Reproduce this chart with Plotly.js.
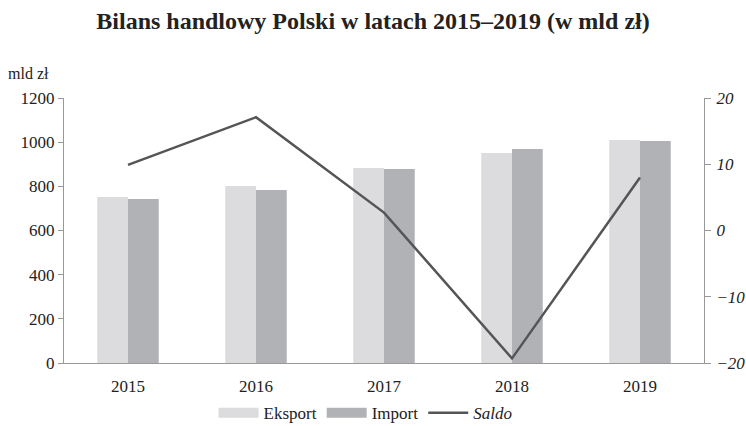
<!DOCTYPE html>
<html><head><meta charset="utf-8">
<script src="https://cdn.plot.ly/plotly-3.0.1.min.js"></script>
<style>body{margin:0;background:#fff}#c{width:746px;height:426px}</style>
</head><body><div id="c"></div>
<script>
const years = ['2015','2016','2017','2018','2019'];
const eksport = [752, 801, 883, 951, 1010];
const importV = [743, 783, 879, 969, 1005];
const saldo = [9.9, 17.1, 2.7, -19.3, 8.0];
const leftTicks = [0, 200, 400, 600, 800, 1000, 1200];
const rightTicks = [-20, -10, 0, 10, 20];
const cExp = '#dcdcde', cImp = '#b1b2b5', cLine = '#555558';

const F = 'Liberation Serif';
const data = [
  {type:'bar', name:'Eksport', x:years, y:eksport, marker:{color:cExp}, showlegend:false},
  {type:'bar', name:'Import', x:years, y:importV, marker:{color:cImp}, showlegend:false},
  {type:'scatter', mode:'lines', name:'<i>Saldo</i>', x:years, y:saldo, yaxis:'y2', line:{color:cLine, width:2.5}, showlegend:false},
  {type:'scatter', mode:'lines', name:'Eksport', x:[null], y:[null], line:{color:cExp, width:12}},
  {type:'scatter', mode:'lines', name:'Import', x:[null], y:[null], line:{color:cImp, width:12}},
  {type:'scatter', mode:'lines', name:'<i>Saldo</i>', x:[null], y:[null], line:{color:cLine, width:2.5}}
];
const layout = {
  width:746, height:426,
  margin:{l:64, r:42, t:98, b:63},
  paper_bgcolor:'#fff', plot_bgcolor:'#fff',
  font:{family:F, size:17, color:'#222'},
  title:{text:'<b>Bilans handlowy Polski w latach 2015–2019 (w mld zł)</b>', x:0.5, xanchor:'center', y:0.952, yanchor:'middle', font:{family:F, size:24, color:'#222'}},
  barmode:'group', bargap:0.52, bargroupgap:0,
  showlegend:true,
  legend:{orientation:'h', x:0.49, xanchor:'center', xref:'container', yref:'container', y:0.03, yanchor:'middle', font:{family:F, size:17}, traceorder:'normal', itemwidth:40, tracegroupgap:0},
  xaxis:{type:'category', showgrid:false, showline:true, linecolor:'#999', linewidth:1, ticks:'', ticklabelstandoff:8, tickfont:{family:F, size:17}, zeroline:false},
  yaxis:{range:[0,1200], tickvals:leftTicks, showgrid:false, showline:true, linecolor:'#999', linewidth:1, ticks:'outside', ticklen:5, tickcolor:'#999', tickfont:{family:F, size:17}, zeroline:false},
  yaxis2:{overlaying:'y', side:'right', range:[-20,20], tickvals:rightTicks, showgrid:false, showline:true, linecolor:'#999', linewidth:1, ticks:'outside', ticklen:6, tickcolor:'#999', ticklabelstandoff:2, tickfont:{family:F, size:17, style:'italic'}, zeroline:false},
  annotations:[{text:'mld zł', xref:'paper', yref:'paper', x:-0.09, xanchor:'left', y:1.094, yanchor:'middle', showarrow:false, font:{family:F, size:16, color:'#222'}}]
};
Plotly.newPlot('c', data, layout, {displayModeBar:false, staticPlot:true});
</script></body></html>
